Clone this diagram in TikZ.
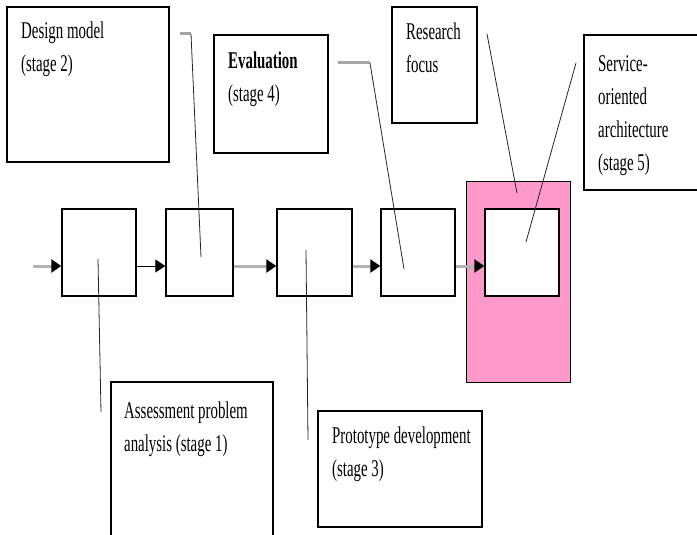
\documentclass[tikz,border=0pt]{standalone}
\usepackage{fontspec}
\setmainfont{Liberation Serif}[FakeStretch=0.62]
\usetikzlibrary{arrows.meta}
\definecolor{rose}{RGB}{255,153,204}

\begin{document}
\begin{tikzpicture}[x=1pt, y=-1pt,
    stage/.style={draw, fill=white, line width=1.4pt, minimum width=74pt, minimum height=87pt},
    callout/.style={draw, line width=1.2pt},
    note/.style={anchor=north west, inner sep=0pt, align=left,
        font=\fontsize{24}{33}\selectfont},
    flow/.style={gray!60, line width=3pt, -{Triangle[length=10pt, width=13pt, black]}},
    leader/.style={black!85, line width=0.8pt},
    bar/.style={gray!70, line width=3pt}]
    \useasboundingbox (0,0) rectangle (697,535);
    \clip (0,0) rectangle (697,535);
    \node[draw, line width=1pt, fill=rose, minimum width=104pt, minimum height=201pt] (focus) at (518,281.5) {};
    \node[stage] (s1) at (99,252.5) {};
    \node[stage, minimum width=67pt] (s2) at (199.5,252.5) {};
    \node[stage, minimum width=75pt] (s3) at (314.5,252.5) {};
    \node[stage] (s4) at (418,252.5) {};
    \node[stage] (s5) at (522,252.5) {};
    \coordinate (in) at (33,266);
    \draw[flow] (in) -- ([yshift=-13.5pt]s1.west);
    \draw[flow, black, line width=1pt] ([yshift=-13.5pt]s1.east) -- ([yshift=-13.5pt]s2.west);
    \draw[flow] ([yshift=-13.5pt]s2.east) -- ([yshift=-13.5pt]s3.west);
    \draw[flow] ([yshift=-13.5pt]s3.east) -- ([yshift=-13.5pt]s4.west);
    \draw[flow] ([yshift=-13.5pt]s4.east) -- ([yshift=-13.5pt]s5.west);

    \node[callout, minimum width=162pt, minimum height=155pt] (design) at (88,84.5) {};
    \node[note] (design text) at (21,22) {Design model\\ (stage 2)};
    \node[callout, minimum width=114pt, minimum height=118pt] (eval) at (271,94) {};
    \node[note] (eval text) at (228,52) {\textbf{Evaluation}\\(stage 4)};
    \node[callout, minimum width=85pt, minimum height=116pt] (research) at (434.5,65) {};
    \node[note] (research text) at (406,23) {Research\\focus};
    \node[callout, minimum width=140pt, minimum height=155pt] (soa) at (654,112.5) {};
    \node[note] (soa text) at (598,55) {Service-\\oriented\\architecture\\(stage 5)};
    \node[callout, minimum width=162pt, minimum height=180pt] (assess) at (192,472) {};
    \node[note] (assess text) at (124,402) {Assessment problem\\analysis (stage 1)};
    \node[callout, minimum width=164pt, minimum height=116pt] (proto) at (400,469) {};
    \node[note] (proto text) at (332,427) {Prototype development\\(stage 3)};

    \coordinate (design bar) at (180,34);
    \coordinate (design from) at (191,34);
    \coordinate (design to) at (201,257);
    \draw[bar] (design bar) -- (design from);
    \draw[leader] (design from) -- (design to);
    \coordinate (eval bar) at (338,63);
    \coordinate (eval from) at (370,63);
    \coordinate (eval to) at (404,269);
    \draw[bar] (eval bar) -- (eval from);
    \draw[leader] (eval from) -- (eval to);
    \coordinate (research from) at (487,34);
    \coordinate (research to) at (517,193);
    \draw[leader] (research from) -- (research to);
    \coordinate (soa from) at (576,63);
    \coordinate (soa to) at (526,242);
    \draw[leader] (soa from) -- (soa to);
    \coordinate (assess from) at (98,259);
    \coordinate (assess to) at (101,412);
    \draw[leader] (assess from) -- (assess to);
    \coordinate (proto from) at (306,250);
    \coordinate (proto to) at (308,440);
    \draw[leader] (proto from) -- (proto to);
\end{tikzpicture}
\end{document}
